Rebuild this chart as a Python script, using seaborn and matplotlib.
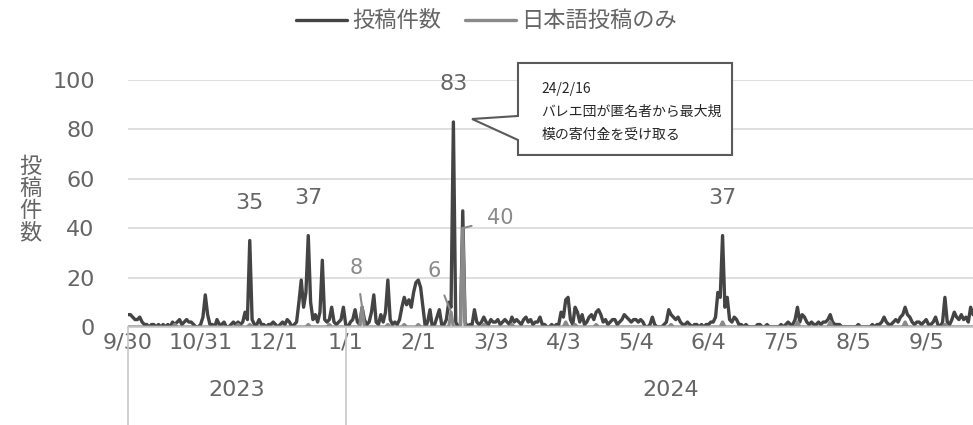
import pandas as pd
import numpy as np
import matplotlib.pyplot as plt
import matplotlib.transforms as mtransforms
from matplotlib.patches import Polygon
import seaborn as sns

# daily posts from 2023-09-30 to 2024-09-25, one list per month
start_date = "2023-09-30"
total_sep23 = [5]
total_oct23 = [5, 4, 3, 3, 4, 2, 1, 1, 0, 1, 1, 0, 1, 0, 1, 0, 1, 0, 2, 1,
               2, 3, 1, 2, 3, 2, 2, 1, 0, 0, 1]
total_nov23 = [4, 13, 5, 1, 1, 0, 3, 1, 1, 2, 0, 0, 1, 2, 1, 2, 1, 2, 6, 3,
               35, 3, 1, 1, 3, 1, 1, 0, 1, 1]
total_dec23 = [2, 1, 0, 1, 2, 1, 3, 2, 0, 1, 2, 10, 19, 8, 14, 37, 10, 3, 5, 2,
               6, 27, 3, 2, 3, 8, 2, 1, 2, 3, 8]
total_jan24 = [1, 0, 2, 3, 7, 2, 1, 8, 3, 1, 2, 6, 13, 2, 1, 5, 2, 6, 19, 3,
               1, 2, 1, 3, 8, 12, 9, 11, 8, 14, 18]
total_feb24 = [19, 16, 8, 0, 2, 7, 0, 1, 4, 7, 1, 1, 3, 10, 8, 83, 2, 0, 0, 47,
               2, 0, 1, 1, 7, 2, 1, 2, 4]
total_mar24 = [2, 1, 3, 2, 2, 3, 1, 2, 3, 2, 1, 4, 2, 3, 2, 1, 3, 4, 2, 3,
               1, 2, 2, 4, 1, 1, 0, 0, 1, 0, 1]
total_apr24 = [1, 6, 4, 11, 12, 3, 1, 8, 6, 2, 5, 1, 2, 4, 5, 3, 6, 7, 5, 2,
               3, 1, 2, 3, 3, 1, 2, 3, 5, 4]
total_may24 = [3, 2, 3, 3, 2, 3, 2, 0, 0, 1, 4, 1, 0, 0, 0, 1, 2, 7, 5, 4,
               3, 4, 2, 1, 1, 2, 1, 0, 1, 1, 0]
total_jun24 = [1, 0, 1, 1, 2, 2, 4, 14, 12, 37, 8, 12, 3, 2, 4, 3, 1, 1, 0, 1,
               0, 0, 0, 0, 1, 1, 0, 0, 1, 0]
total_jul24 = [0, 0, 0, 0, 1, 0, 1, 2, 1, 1, 3, 8, 2, 5, 4, 2, 1, 2, 1, 1,
               2, 1, 2, 2, 3, 5, 2, 1, 1, 1, 0]
total_aug24 = [0, 0, 0, 0, 0, 0, 1, 0, 0, 0, 0, 0, 1, 0, 1, 1, 2, 4, 2, 1,
               1, 2, 3, 2, 4, 5, 8, 5, 4, 2, 1]
total_sep24 = [2, 2, 1, 2, 3, 1, 1, 2, 4, 1, 0, 2, 12, 2, 1, 3, 6, 4, 3, 5,
               3, 4, 2, 8, 5]

# Japanese-only posts: days that are not zero
jp_dates = ["2023-10-20", "2023-11-16", "2023-11-21", "2023-12-16", "2023-12-25",
            "2024-01-08", "2024-01-19", "2024-01-26", "2024-02-01", "2024-02-15",
            "2024-02-20", "2024-02-29", "2024-03-12", "2024-04-04", "2024-04-08",
            "2024-04-17", "2024-05-19", "2024-06-10", "2024-07-12", "2024-07-26",
            "2024-08-27", "2024-09-13"]
jp_values = [1, 1, 1, 1, 1, 8, 1, 1, 1, 6, 40, 1, 1, 2, 1, 1, 1, 2, 2, 2, 2, 1]

tick_dates = ["2023-09-30", "2023-10-31", "2023-12-01", "2024-01-01", "2024-02-01",
              "2024-03-03", "2024-04-03", "2024-05-04", "2024-06-04", "2024-07-05",
              "2024-08-05", "2024-09-05"]
peak_dates = ["2023-11-21", "2023-12-16", "2024-02-16", "2024-06-10"]
jp_label_dates = ["2024-01-08", "2024-02-15", "2024-02-20"]

callout_lines = ["24/2/16", "バレエ団が匿名者から最大規", "模の寄付金を受け取る"]

total = (total_sep23 + total_oct23 + total_nov23 + total_dec23 + total_jan24 + total_feb24
         + total_mar24 + total_apr24 + total_may24 + total_jun24 + total_jul24
         + total_aug24 + total_sep24)
dates = pd.date_range(start_date, periods=len(total), freq="D")
df = pd.DataFrame({"date": dates, "total": total})
df["jp"] = 0
df.loc[df["date"].isin(pd.to_datetime(jp_dates)), "jp"] = jp_values
df = df.set_index("date")

sns.set_theme(style="white")
plt.rcParams["font.family"] = ["DejaVu Sans", "Noto Sans CJK JP"]
jp_font = ["Noto Sans CJK JP", "DejaVu Sans"]

c_total = "#444444"
c_jp = "#8a8a8a"
c_text = "#656565"

fig = plt.figure(figsize=(9.73, 4.25), dpi=100)
ax = fig.add_axes([0.1316, 0.2306, 0.8684, 0.5812])

sns.lineplot(x=df.index, y=df["total"], ax=ax, color=c_total, lw=2.4, label="投稿件数")
sns.lineplot(x=df.index, y=df["jp"], ax=ax, color=c_jp, lw=2.4, label="日本語投稿のみ")

ax.set_xlim(dates[0], dates[-1])
ax.set_ylim(0, 100)
ax.set_yticks(range(0, 101, 20))
ax.yaxis.grid(True, color="#d9d9d9", lw=1.2)
ax.set_axisbelow(True)
for s in ["top", "right", "left"]:
    ax.spines[s].set_visible(False)
ax.spines["bottom"].set_color("#c8c8c8")
ax.spines["bottom"].set_linewidth(1.2)

ticks = pd.to_datetime(tick_dates)
ax.set_xticks(ticks)
ax.set_xticklabels([f"{t.month}/{t.day}" for t in ticks])
ax.tick_params(axis="x", length=0, pad=4, labelsize=16, labelcolor=c_text)
ax.tick_params(axis="y", length=0, pad=24, labelsize=16, labelcolor=c_text)
ax.set_xlabel("")
ax.set_ylabel("")

# year row below the dates
trans = mtransforms.blended_transform_factory(ax.transData, ax.transAxes)
for d in [dates[0], pd.Timestamp("2024-01-01")]:
    ax.plot([d, d], [0, -0.42], transform=trans, color="#c8c8c8", lw=1.2, clip_on=False)
ax.text(dates[0] + (pd.Timestamp("2024-01-01") - dates[0]) / 2, -0.255, "2023",
        transform=trans, ha="center", va="center", fontsize=16, color=c_text)
ax.text(pd.Timestamp("2024-05-19"), -0.255, "2024",
        transform=trans, ha="center", va="center", fontsize=16, color=c_text)

# y label written top to bottom
ax.text(-0.116, 0.515, "\n".join("投稿件数"), transform=ax.transAxes, ha="center",
        va="center", fontsize=16, color=c_text, linespacing=0.95, family=jp_font)

# peak values
for d in pd.to_datetime(peak_dates):
    v = df.loc[d, "total"]
    ax.annotate(str(v), (d, v), xytext=(0, 27), textcoords="offset points",
                ha="center", va="center", fontsize=16, color=c_text)

offsets = [(-4, 28), (-12, 30), (27, 7)]
for d, off in zip(pd.to_datetime(jp_label_dates), offsets):
    v = df.loc[d, "jp"]
    ax.annotate(str(v), (d, v), xytext=off, textcoords="offset points",
                ha="center", va="center", fontsize=15, color=c_jp,
                arrowprops=dict(arrowstyle="-", color=c_jp, lw=1.5, shrinkA=9, shrinkB=1))

# callout box
L, R, T, B = 0.4615, 0.7148, 1.0688, 0.6964
box = Polygon([(L, T), (R, T), (R, B), (L, B), (L, 0.7571), (0.4071, 0.8421), (L, 0.8543)],
              closed=True, transform=ax.transAxes, facecolor="white", edgecolor="#5a5a5a",
              lw=1.5, clip_on=False, zorder=5)
ax.add_patch(box)
for y, line in zip([0.962, 0.872, 0.779], callout_lines):
    ax.text(0.4888, y, line, transform=ax.transAxes, ha="left", va="center",
            fontsize=10, color="#262626", zorder=6, family=jp_font)

ax.get_legend().remove()
h, l = ax.get_legend_handles_labels()
fig.legend(h, l, loc="center", bbox_to_anchor=(0.5, 0.951), ncol=2, frameon=False,
           fontsize=16, handlelength=2.3, handletextpad=0.2, columnspacing=1.1,
           labelcolor=c_text, prop={"family": jp_font, "size": 16})

fig.savefig("out.png", dpi=100)
